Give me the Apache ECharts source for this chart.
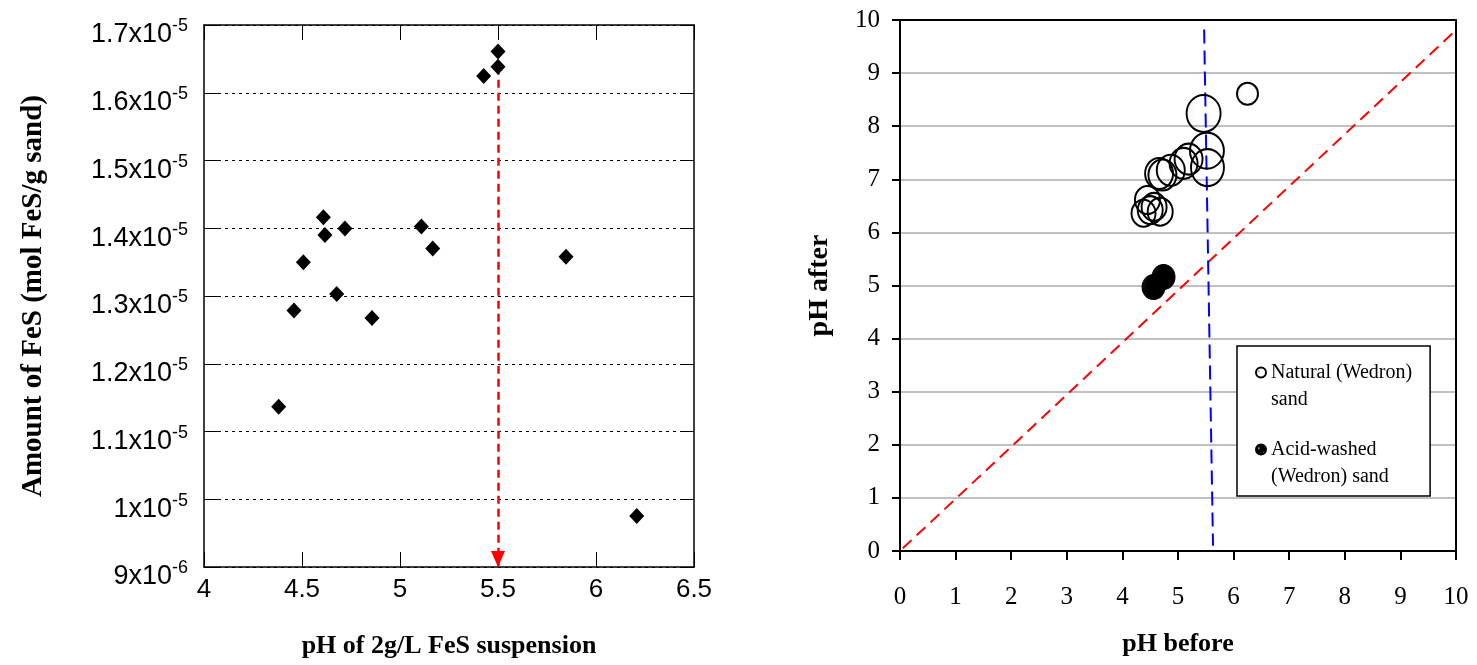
<!DOCTYPE html>
<html>
<head>
<meta charset="utf-8">
<title>FeS amount and pH change</title>
<script src="https://cdn.jsdelivr.net/npm/echarts@6/dist/echarts.min.js"></script>
<style>
  html, body { margin: 0; padding: 0; background: #fff; }
  #chart { width: 1477px; height: 665px; }
</style>
</head>
<body>
<div id="chart"></div>
<script>
// Left panel: FeS loading on sand vs pH of the 2 g/L FeS suspension
const fesPH = [5.50, 5.50, 5.427, 4.609, 4.617, 4.719, 5.109, 5.167, 5.847, 4.507, 4.677, 4.459, 4.857, 4.381, 6.208];
const fesAmount = [1.661e-5, 1.6385e-5, 1.6248e-5, 1.4164e-5, 1.390e-5, 1.3996e-5, 1.4025e-5, 1.370e-5,
                   1.3578e-5, 1.350e-5, 1.3028e-5, 1.2786e-5, 1.2674e-5, 1.1366e-5, 0.9754e-5];
const phTickLabels = ['4', '4.5', '5', '5.5', '6', '6.5'];
// mantissa / exponent pairs for the amount axis, bottom to top
const amountTickLabels = [['9', '-6'], ['1', '-5'], ['1.1', '-5'], ['1.2', '-5'], ['1.3', '-5'],
                          ['1.4', '-5'], ['1.5', '-5'], ['1.6', '-5'], ['1.7', '-5']];
const amountMin = 9e-6, amountMax = 1.7e-5, amountStep = 1e-6;
// arrow from the highest-loading suspension down to its pH
const arrowPH = 5.5;
const arrowStartAmount = 1.6385e-5;

// Right panel: pH before vs after contact with sand
const naturalBefore = [6.25, 5.46, 5.52, 5.53, 5.19, 5.10, 4.87, 4.72, 4.66, 4.45, 4.57, 4.50, 4.68, 4.38];
const naturalAfter  = [8.61, 8.24, 7.54, 7.22, 7.38, 7.30, 7.17, 7.08, 7.11, 6.61, 6.48, 6.42, 6.39, 6.36];
const acidBefore = [4.74, 4.56];
const acidAfter  = [5.16, 4.97];
const phAxisTicks = ['0', '1', '2', '3', '4', '5', '6', '7', '8', '9', '10'];
// guide lines: 1:1 line and the pH ~5.5 divide
const oneToOneLine = [[0.05, 0.05], [10.08, 9.89]];
const dividePH = [[5.47, 9.82], [5.63, 0.1]];

// marker dimensions [w, h] in px for each natural-sand bubble
const naturalSymbolSizes = [[21, 22], [34, 37], [34, 36], [33, 37], [28, 31], [28, 31], [28, 31], [28, 31],
                            [28, 31], [25, 28], [25, 28], [25, 28], [25, 28], [24, 27]];
const acidSymbolSize = [23, 25];

const SANS = '"Liberation Sans", Arial, sans-serif';
const SERIF = '"Liberation Serif", "Times New Roman", serif';
const NATURAL = 'Natural (Wedron)\nsand';
const ACID = 'Acid-washed\n(Wedron) sand';

// small stipple tiles used as the bubble fills
function stipple(background, dot) {
  const c = document.createElement('canvas');
  c.width = 10; c.height = 10;
  const g = c.getContext('2d');
  if (background) { g.fillStyle = background; g.fillRect(0, 0, 10, 10); }
  g.fillStyle = dot;
  g.fillRect(2, 3, 1.5, 1.5);
  g.fillRect(7, 8, 1.5, 1.5);
  return c;
}
const naturalFill = { image: stipple(null, '#777'), repeat: 'repeat' };
const acidFill = { image: stipple('#000', '#cfcfcf'), repeat: 'repeat' };

const chart = echarts.init(document.getElementById('chart'), null, { renderer: 'canvas' });

const frameLine = { show: true, onZero: false, lineStyle: { color: '#000', width: 1.5 } };
const rightFrame = { show: true, onZero: false, lineStyle: { color: '#000', width: 2 } };

const option = {
  animation: false,
  backgroundColor: '#fff',
  grid: [
    { left: 204, right: 783, top: 25, bottom: 98 },
    { left: 900, right: 21, top: 20, bottom: 114 }
  ],
  legend: {
    data: [NATURAL, ACID],
    orient: 'vertical',
    left: 1237,
    top: 346,
    padding: [13, 18, 6, 18],
    itemGap: 23,
    itemWidth: 10,
    itemHeight: 37,
    icon: 'path://M0,5a5,5 0 1,0 10,0a5,5 0 1,0 -10,0zM5,37',
    borderColor: '#000',
    borderWidth: 1.5,
    backgroundColor: '#fff',
    textStyle: { fontFamily: SERIF, fontSize: 20, lineHeight: 27, color: '#000' },
    selectedMode: false
  },
  xAxis: [
    {
      gridIndex: 0, type: 'value', min: 4, max: 6.5, interval: 0.5, position: 'bottom',
      name: 'pH of 2g/L FeS suspension', nameLocation: 'middle', nameGap: 66,
      nameTextStyle: { fontFamily: SERIF, fontWeight: 'bold', fontSize: 26, color: '#000' },
      axisLine: frameLine,
      axisTick: { show: true, inside: true, length: 15, lineStyle: { color: '#000', width: 1 } },
      axisLabel: {
        fontFamily: SANS, fontSize: 26, color: '#000', margin: 10,
        formatter: v => phTickLabels[Math.round((v - 4) / 0.5)]
      },
      splitLine: { show: false }
    },
    {
      gridIndex: 0, type: 'value', min: 4, max: 6.5, interval: 0.5, position: 'top',
      axisLine: frameLine,
      axisTick: { show: true, inside: true, length: 15, lineStyle: { color: '#000', width: 1 } },
      axisLabel: { show: false },
      splitLine: { show: false }
    },
    {
      gridIndex: 1, type: 'value', min: 0, max: 10, interval: 1, position: 'bottom',
      name: 'pH before', nameLocation: 'middle', nameGap: 80,
      nameTextStyle: { fontFamily: SERIF, fontWeight: 'bold', fontSize: 26, color: '#000' },
      axisLine: rightFrame,
      axisTick: { show: true, inside: false, length: 9, lineStyle: { color: '#000', width: 2 } },
      axisLabel: {
        fontFamily: SERIF, fontSize: 25, color: '#000', margin: 34,
        formatter: v => phAxisTicks[Math.round(v)]
      },
      splitLine: { show: false }
    },
    {
      gridIndex: 1, type: 'value', min: 0, max: 10, interval: 1, position: 'top',
      axisLine: rightFrame, axisTick: { show: false }, axisLabel: { show: false }, splitLine: { show: false }
    }
  ],
  yAxis: [
    {
      gridIndex: 0, type: 'value', min: amountMin, max: amountMax, interval: amountStep, position: 'left',
      name: 'Amount of FeS (mol FeS/g sand)', nameLocation: 'middle', nameGap: 156, nameRotate: 90,
      nameTextStyle: { fontFamily: SERIF, fontWeight: 'bold', fontSize: 29, color: '#000' },
      axisLine: frameLine,
      axisTick: { show: true, inside: true, length: 14, lineStyle: { color: '#000', width: 1 } },
      axisLabel: {
        margin: 16,
        padding: [16, 0, 0, 0],
        formatter: v => {
          const pair = amountTickLabels[Math.round((v - amountMin) / amountStep)];
          return '{b|' + pair[0] + 'x10}{s|' + pair[1] + '}';
        },
        rich: {
          b: { fontFamily: SANS, fontSize: 27, color: '#000', verticalAlign: 'bottom', lineHeight: 31 },
          s: { fontFamily: SANS, fontSize: 18, color: '#000', verticalAlign: 'top', lineHeight: 10 }
        }
      },
      splitLine: { show: true, lineStyle: { color: '#000', width: 1, type: [3, 4] } }
    },
    {
      gridIndex: 0, type: 'value', min: amountMin, max: amountMax, interval: amountStep, position: 'right',
      axisLine: frameLine,
      axisTick: { show: true, inside: true, length: 14, lineStyle: { color: '#000', width: 1 } },
      axisLabel: { show: false },
      splitLine: { show: false }
    },
    {
      gridIndex: 1, type: 'value', min: 0, max: 10, interval: 1, position: 'left',
      name: 'pH after', nameLocation: 'middle', nameGap: 66, nameRotate: 90,
      nameTextStyle: { fontFamily: SERIF, fontWeight: 'bold', fontSize: 28, color: '#000' },
      axisLine: rightFrame,
      axisTick: { show: true, inside: false, length: 8, lineStyle: { color: '#000', width: 2 } },
      axisLabel: {
        fontFamily: SERIF, fontSize: 25, color: '#000', margin: 20,
        formatter: v => phAxisTicks[Math.round(v)]
      },
      splitLine: { show: true, lineStyle: { color: '#c0c0c0', width: 2 } }
    },
    {
      gridIndex: 1, type: 'value', min: 0, max: 10, interval: 1, position: 'right',
      axisLine: rightFrame, axisTick: { show: false }, axisLabel: { show: false }, splitLine: { show: false }
    }
  ],
  series: [
    {
      name: 'FeS',
      type: 'scatter',
      xAxisIndex: 0, yAxisIndex: 0,
      data: fesPH.map((x, i) => [x, fesAmount[i]]),
      symbol: 'diamond',
      symbolSize: [15, 16],
      itemStyle: { color: '#000', opacity: 1 },
      z: 4,
      markLine: {
        silent: true,
        z: 1,
        symbol: ['none', 'triangle'],
        symbolSize: [14, 16],
        symbolOffset: [[0, 0], [0, 8]],
        label: { show: false },
        lineStyle: { color: '#ff0000', width: 2.5, type: [8, 5] },
        data: [[{ coord: [arrowPH, arrowStartAmount] }, { coord: [arrowPH, amountMin] }]]
      }
    },
    {
      name: 'one-to-one',
      type: 'line',
      xAxisIndex: 2, yAxisIndex: 2,
      data: oneToOneLine,
      symbol: 'none',
      clip: false,
      silent: true,
      lineStyle: { color: '#ff0000', width: 2, type: [12, 7] },
      z: 2
    },
    {
      name: 'divide',
      type: 'line',
      xAxisIndex: 2, yAxisIndex: 2,
      data: dividePH,
      symbol: 'none',
      silent: true,
      lineStyle: { color: '#0000ff', width: 2, type: [14, 7] },
      z: 2
    },
    {
      name: NATURAL,
      type: 'scatter',
      xAxisIndex: 2, yAxisIndex: 2,
      data: naturalBefore.map((x, i) => ({ value: [x, naturalAfter[i]], symbolSize: naturalSymbolSizes[i] })),
      symbol: 'circle',
      itemStyle: { color: naturalFill, borderColor: '#000', borderWidth: 2, opacity: 1 },
      z: 3
    },
    {
      name: ACID,
      type: 'scatter',
      xAxisIndex: 2, yAxisIndex: 2,
      data: acidBefore.map((x, i) => [x, acidAfter[i]]),
      symbol: 'circle',
      symbolSize: acidSymbolSize,
      itemStyle: { color: acidFill, borderColor: '#000', borderWidth: 1, opacity: 1 },
      z: 3
    }
  ]
};

chart.setOption(option);
</script>
</body>
</html>
